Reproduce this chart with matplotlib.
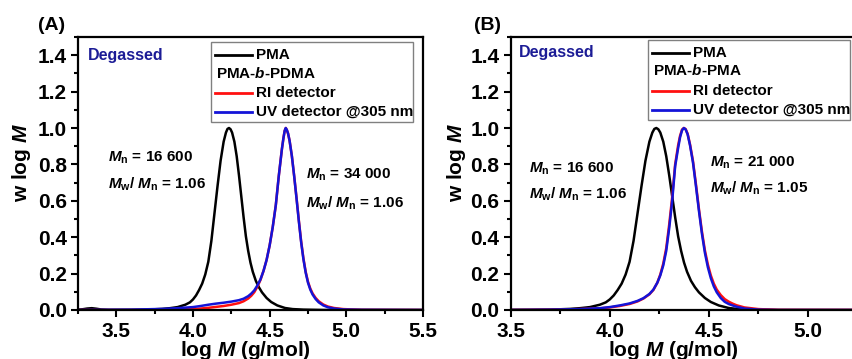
import matplotlib
matplotlib.use("Agg")
import matplotlib.pyplot as plt
from matplotlib.lines import Line2D
from matplotlib.patches import Rectangle
from matplotlib.ticker import MultipleLocator, FormatStrFormatter
from matplotlib.transforms import Affine2D, ScaledTranslation

plt.rcParams['font.family'] = ['Liberation Sans', 'DejaVu Sans']
plt.rcParams['font.weight'] = 'bold'
plt.rcParams['mathtext.fontset'] = 'custom'
plt.rcParams['mathtext.rm'] = 'Liberation Sans:bold'
plt.rcParams['mathtext.it'] = 'Liberation Sans:italic:bold'
plt.rcParams['mathtext.bf'] = 'Liberation Sans:bold'
plt.rcParams['mathtext.sf'] = 'Liberation Sans:bold'

# PMA macroinitiator (same trace in both panels)
pma_logm = [3.25, 3.28, 3.31, 3.34, 3.37, 3.40, 3.45, 3.60, 3.70, 3.75,
            3.80, 3.85, 3.90, 3.95, 3.98, 4.00, 4.02, 4.04, 4.06, 4.08,
            4.10, 4.12, 4.14, 4.16, 4.18, 4.20, 4.215, 4.225, 4.235, 4.245,
            4.255, 4.27, 4.285, 4.30, 4.315, 4.33, 4.345, 4.36, 4.375, 4.39,
            4.41, 4.43, 4.45, 4.48, 4.51, 4.55, 4.60, 4.65, 4.72, 4.85,
            5.50]
pma_w = [0.002, 0.004, 0.008, 0.010, 0.007, 0.003, 0.001, 0.001, 0.002, 0.004,
         0.006, 0.010, 0.016, 0.029, 0.042, 0.058, 0.080, 0.110, 0.145, 0.195,
         0.265, 0.380, 0.530, 0.680, 0.820, 0.925, 0.975, 0.995, 1.000, 0.993,
         0.975, 0.925, 0.845, 0.740, 0.625, 0.510, 0.405, 0.325, 0.260, 0.210,
         0.160, 0.125, 0.097, 0.066, 0.044, 0.025, 0.011, 0.005, 0.002, 0.000,
         0.000]

# (A) PMA-b-PDMA
a_logm = [3.25, 3.60, 3.80, 3.90, 4.00, 4.05, 4.10, 4.15, 4.20, 4.25,
          4.30, 4.33, 4.36, 4.38, 4.40, 4.42, 4.44, 4.46, 4.48, 4.50,
          4.52, 4.54, 4.56, 4.58, 4.59, 4.598, 4.605, 4.612, 4.62, 4.63,
          4.645, 4.66, 4.675, 4.69, 4.705, 4.72, 4.735, 4.75, 4.765, 4.78,
          4.80, 4.82, 4.85, 4.88, 4.92, 4.98, 5.10, 5.50]
a_uv = [0.000, 0.002, 0.006, 0.010, 0.016, 0.022, 0.029, 0.035, 0.040, 0.046,
        0.054, 0.062, 0.076, 0.090, 0.108, 0.135, 0.168, 0.215, 0.275, 0.355,
        0.455, 0.575, 0.740, 0.885, 0.945, 0.985, 1.000, 0.990, 0.970, 0.930,
        0.845, 0.735, 0.615, 0.490, 0.375, 0.280, 0.205, 0.150, 0.112, 0.085,
        0.060, 0.042, 0.025, 0.015, 0.008, 0.003, 0.001, 0.000]
a_ri = [0.000, 0.000, 0.001, 0.003, 0.005, 0.008, 0.012, 0.017, 0.022, 0.029,
        0.038, 0.048, 0.063, 0.078, 0.098, 0.128, 0.165, 0.215, 0.275, 0.355,
        0.455, 0.575, 0.740, 0.885, 0.945, 0.985, 1.000, 0.990, 0.970, 0.930,
        0.845, 0.735, 0.618, 0.495, 0.380, 0.285, 0.210, 0.155, 0.118, 0.091,
        0.066, 0.048, 0.030, 0.019, 0.011, 0.005, 0.001, 0.000]

# (B) PMA-b-PMA
b_logm = [3.50, 3.70, 3.85, 3.95, 4.00, 4.05, 4.10, 4.14, 4.17, 4.20,
          4.22, 4.24, 4.255, 4.27, 4.285, 4.30, 4.315, 4.33, 4.345, 4.355,
          4.365, 4.374, 4.383, 4.393, 4.405, 4.42, 4.435, 4.45, 4.465, 4.48,
          4.495, 4.51, 4.525, 4.54, 4.56, 4.58, 4.60, 4.62, 4.64, 4.68,
          4.75, 4.85, 5.50]
b_uv = [0.000, 0.002, 0.005, 0.010, 0.016, 0.025, 0.036, 0.050, 0.065, 0.088,
        0.112, 0.150, 0.190, 0.245, 0.325, 0.450, 0.600, 0.790, 0.890, 0.950,
        0.988, 1.000, 0.992, 0.965, 0.905, 0.810, 0.680, 0.545, 0.420, 0.315,
        0.235, 0.175, 0.130, 0.097, 0.066, 0.045, 0.033, 0.025, 0.018, 0.008,
        0.002, 0.000, 0.000]
b_ri = [0.000, 0.002, 0.005, 0.009, 0.014, 0.022, 0.033, 0.047, 0.063, 0.086,
        0.110, 0.150, 0.195, 0.255, 0.340, 0.470, 0.620, 0.800, 0.905, 0.958,
        0.992, 1.000, 0.994, 0.968, 0.910, 0.818, 0.690, 0.555, 0.432, 0.328,
        0.250, 0.190, 0.145, 0.112, 0.082, 0.060, 0.046, 0.035, 0.026, 0.014,
        0.005, 0.001, 0.000]

navy = '#1c1c96'
red = '#ff1010'
blue = '#1414d8'


def draw_key(ax, x0, y0, header):
    # legend box drawn by hand: anchor in axes fraction, layout in pixels
    trans = Affine2D() + ScaledTranslation(x0, y0, ax.transAxes)
    ax.add_patch(Rectangle((0, -80), 202, 80, transform=trans, fill=False,
                           edgecolor='#808080', lw=1.0, clip_on=False))
    rows = [('PMA', 'black', -13), (None, None, -31),
            ('RI detector', red, -51), ('UV detector @305 nm', blue, -70)]
    for label, color, dy in rows:
        if label is None:
            ax.text(5, dy, header, transform=trans, va='center', ha='left',
                    fontsize=11)
            continue
        ax.add_line(Line2D([4, 41], [dy, dy], transform=trans, color=color,
                           lw=2.0, clip_on=False))
        ax.text(45, dy, label, transform=trans, va='center', ha='left',
                fontsize=11)


def style_axes(ax, xlim):
    ax.set_xlim(*xlim)
    ax.set_ylim(0, 1.5)
    ax.xaxis.set_major_locator(MultipleLocator(0.5))
    ax.xaxis.set_minor_locator(MultipleLocator(0.25))
    ax.yaxis.set_major_locator(MultipleLocator(0.2))
    ax.yaxis.set_minor_locator(MultipleLocator(0.1))
    ax.xaxis.set_major_formatter(FormatStrFormatter('%.1f'))
    ax.yaxis.set_major_formatter(FormatStrFormatter('%.1f'))
    ax.set_yticks([0, 0.2, 0.4, 0.6, 0.8, 1.0, 1.2, 1.4])
    ax.tick_params(which='both', direction='out', top=False, right=False,
                   width=1.5, labelsize=15)
    ax.tick_params(which='major', length=5)
    ax.tick_params(which='minor', length=3)
    ax.tick_params(axis='x', pad=4)
    ax.tick_params(axis='y', pad=3)
    for sp in ax.spines.values():
        sp.set_linewidth(1.6)


fig = plt.figure(figsize=(8.53, 3.59), dpi=100)
ax_a = fig.add_axes([0.0914, 0.1365, 0.4045, 0.7604])
ax_b = fig.add_axes([0.5987, 0.1365, 0.4646, 0.7604])

# panel A
ax_a.plot(pma_logm, pma_w, color='black', lw=1.8)
ax_a.plot(a_logm, a_ri, color=red, lw=1.8)
ax_a.plot(a_logm, a_uv, color=blue, lw=1.8)
style_axes(ax_a, (3.25, 5.5))
ax_a.text(3.314, 1.40, 'Degassed', color=navy, fontsize=11.5, va='center')
ax_a.text(3.446, 0.837, r'$M_{\rm n}$ = 16 600', fontsize=11, va='center')
ax_a.text(3.446, 0.688, r'$M_{\rm w}$/ $M_{\rm n}$ = 1.06', fontsize=11,
          va='center')
ax_a.text(4.740, 0.743, r'$M_{\rm n}$ = 34 000', fontsize=11, va='center')
ax_a.text(4.740, 0.589, r'$M_{\rm w}$/ $M_{\rm n}$ = 1.06', fontsize=11,
          va='center')
draw_key(ax_a, 0.3855, 0.9817, r'PMA-$b$-PDMA')
ax_a.text(-0.163, 0.54, r'w log $M$', transform=ax_a.transAxes, rotation=90,
          ha='center', va='center', fontsize=15)
ax_a.text(0.484, -0.168, r'log $M$ (g/mol)', transform=ax_a.transAxes,
          ha='center', va='baseline', fontsize=15)

# panel B
ax_b.plot(pma_logm, pma_w, color='black', lw=1.8)
ax_b.plot(b_logm, b_ri, color=red, lw=1.8)
ax_b.plot(b_logm, b_uv, color=blue, lw=1.8)
style_axes(ax_b, (3.5, 5.5))
ax_b.text(3.540, 1.413, 'Degassed', color=navy, fontsize=11.5, va='center')
ax_b.text(3.592, 0.776, r'$M_{\rm n}$ = 16 600', fontsize=11, va='center')
ax_b.text(3.592, 0.633, r'$M_{\rm w}$/ $M_{\rm n}$ = 1.06', fontsize=11,
          va='center')
ax_b.text(4.505, 0.811, r'$M_{\rm n}$ = 21 000', fontsize=11, va='center')
ax_b.text(4.505, 0.666, r'$M_{\rm w}$/ $M_{\rm n}$ = 1.05', fontsize=11,
          va='center')
draw_key(ax_b, 0.3465, 0.9905, r'PMA-$b$-PMA')
ax_b.text(-0.1355, 0.54, r'w log $M$', transform=ax_b.transAxes, rotation=90,
          ha='center', va='center', fontsize=15)
ax_b.text(0.41, -0.168, r'log $M$ (g/mol)', transform=ax_b.transAxes,
          ha='center', va='baseline', fontsize=15)

fig.text(0.0445, 0.930, '(A)', fontsize=14, va='center')
fig.text(0.5553, 0.930, '(B)', fontsize=14, va='center')

fig.savefig('out.png', dpi=100)
